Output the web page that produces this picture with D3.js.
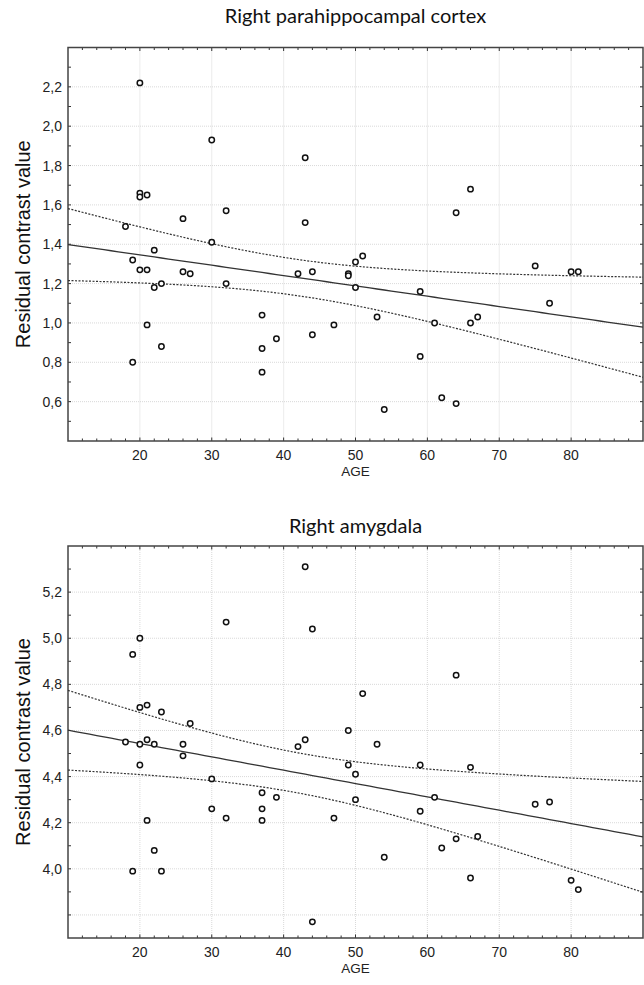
<!DOCTYPE html>
<html>
<head>
<meta charset="utf-8">
<script src="https://cdn.jsdelivr.net/npm/d3@7"></script>
<style>
  body { margin: 0; background: #fff; }
</style>
</head>
<body>
<div id="chart"></div>
<script>
// data
const parahippoAge = [20, 20, 20, 21, 30, 43, 18, 26, 32, 30, 43, 19, 22, 20, 21, 26, 27, 22, 23, 32,
  42, 44, 37, 66, 64, 51, 50, 49, 49, 50, 75, 80, 81, 59, 77, 53, 67, 19, 21, 23,
  37, 37, 39, 44, 47, 54, 59, 61, 62, 64, 66];
const parahippoValue = [2.22, 1.66, 1.64, 1.65, 1.93, 1.84, 1.49, 1.53, 1.57, 1.41, 1.51, 1.32, 1.37, 1.27, 1.27, 1.26, 1.25, 1.18, 1.20, 1.20,
  1.25, 1.26, 1.04, 1.68, 1.56, 1.34, 1.31, 1.25, 1.24, 1.18, 1.29, 1.26, 1.26, 1.16, 1.10, 1.03, 1.03, 0.80, 0.99, 0.88,
  0.87, 0.75, 0.92, 0.94, 0.99, 0.56, 0.83, 1.00, 0.62, 0.59, 1.00];

const amygdalaAge = [43, 32, 44, 20, 19, 20, 21, 23, 27, 42, 43, 18, 20, 21, 22, 26, 26, 64, 51, 49,
  53, 20, 30, 30, 32, 37, 37, 37, 39, 47, 49, 50, 50, 54, 44, 59, 59, 61, 62, 64,
  66, 66, 67, 75, 77, 80, 81, 21, 22, 19, 23];
const amygdalaValue = [5.31, 5.07, 5.04, 5.00, 4.93, 4.70, 4.71, 4.68, 4.63, 4.53, 4.56, 4.55, 4.54, 4.56, 4.54, 4.54, 4.49, 4.84, 4.76, 4.60,
  4.54, 4.45, 4.39, 4.26, 4.22, 4.33, 4.26, 4.21, 4.31, 4.22, 4.45, 4.41, 4.30, 4.05, 3.77, 4.45, 4.25, 4.31, 4.09, 4.13,
  4.44, 3.96, 4.14, 4.28, 4.29, 3.95, 3.91, 4.21, 4.08, 3.99, 3.99];

const ageTicks = [20, 30, 40, 50, 60, 70, 80];
const parahippoTicks = [0.6, 0.8, 1.0, 1.2, 1.4, 1.6, 1.8, 2.0, 2.2];
const amygdalaGrid = [3.8, 4.0, 4.2, 4.4, 4.6, 4.8, 5.0, 5.2];
const amygdalaTicks = [4.0, 4.2, 4.4, 4.6, 4.8, 5.0, 5.2];

const width = 644;
const height = 985;
const left = 68;
const right = 643;
const tValue = 2.01; // t(0.975, n-2) for n = 51

const tickFont = 'Arial, "Liberation Sans", sans-serif';
const titleFont = 'Lato, "Open Sans", sans-serif';
const comma = v => d3.format('.1f')(v).replace('.', ',');

const panels = [
  {title: 'Right parahippocampal cortex', ages: parahippoAge, values: parahippoValue,
   domain: [0.4, 2.4], top: 47.5, bottom: 441, grid: parahippoTicks, labels: parahippoTicks, titleY: 23},
  {title: 'Right amygdala', ages: amygdalaAge, values: amygdalaValue,
   domain: [3.7, 5.4], top: 546, bottom: 938, grid: amygdalaGrid, labels: amygdalaTicks, titleY: 533}
];

const svg = d3.select('#chart').append('svg')
  .attr('width', width)
  .attr('height', height)
  .style('display', 'block');

panels.forEach(p => drawPanel(p));

function drawPanel(p) {
  const xScale = d3.scaleLinear().domain([10, 90]).range([left, right]);
  const yScale = d3.scaleLinear().domain(p.domain).range([p.bottom, p.top]);
  const g = svg.append('g');

  // grid
  g.append('g').selectAll('line.vg')
    .data(ageTicks)
    .join('line')
      .attr('x1', d => xScale(d)).attr('x2', d => xScale(d))
      .attr('y1', p.top).attr('y2', p.bottom)
      .attr('stroke', '#cfcfcf').attr('stroke-width', 0.8)
      .attr('stroke-dasharray', '1,1');
  g.append('g').selectAll('line.hg')
    .data(p.grid)
    .join('line')
      .attr('x1', left).attr('x2', right)
      .attr('y1', d => yScale(d)).attr('y2', d => yScale(d))
      .attr('stroke', '#cfcfcf').attr('stroke-width', 0.8)
      .attr('stroke-dasharray', '1,1');

  // inward ticks on all four sides
  const xMinor = d3.range(12, 90, 2);
  const yMinor = d3.range(Math.round(p.domain[0] * 10) + 1, Math.round(p.domain[1] * 10)).map(v => v / 10);
  const ticksG = g.append('g').attr('stroke', '#333').attr('stroke-width', 1);
  [p.bottom, p.top].forEach((yy, i) => {
    ticksG.append('g').selectAll('line')
      .data(xMinor)
      .join('line')
        .attr('x1', d => xScale(d)).attr('x2', d => xScale(d))
        .attr('y1', yy).attr('y2', d => yy + (i === 0 ? -1 : 1) * (d % 10 === 0 ? 3.5 : 2.5));
  });
  [left, right].forEach((xx, i) => {
    ticksG.append('g').selectAll('line')
      .data(yMinor)
      .join('line')
        .attr('y1', d => yScale(d)).attr('y2', d => yScale(d))
        .attr('x1', xx).attr('x2', xx + (i === 0 ? 3 : -3));
  });

  // frame
  g.append('rect')
    .attr('x', left).attr('y', p.top)
    .attr('width', right - left).attr('height', p.bottom - p.top)
    .attr('fill', 'none').attr('stroke', '#444').attr('stroke-width', 1.5);

  // tick labels
  g.append('g').selectAll('text')
    .data(p.labels)
    .join('text')
      .attr('x', left - 6)
      .attr('y', d => yScale(d) + 5)
      .attr('text-anchor', 'end')
      .style('font', `14px ${tickFont}`)
      .attr('fill', '#222')
      .text(comma);
  g.append('g').selectAll('text')
    .data(ageTicks)
    .join('text')
      .attr('x', d => xScale(d))
      .attr('y', p.bottom + 19)
      .attr('text-anchor', 'middle')
      .style('font', `14px ${tickFont}`)
      .attr('fill', '#222')
      .text(d => d);

  g.append('text')
    .attr('x', (left + right) / 2)
    .attr('y', p.bottom + 35)
    .attr('text-anchor', 'middle')
    .style('font', `13.5px ${tickFont}`)
    .attr('fill', '#222')
    .text('AGE');

  g.append('text')
    .attr('transform', `translate(30,${(p.top + p.bottom) / 2}) rotate(-90)`)
    .attr('text-anchor', 'middle')
    .style('font', `20px ${tickFont}`)
    .attr('fill', '#111')
    .text('Residual contrast value');

  g.append('text')
    .attr('x', (left + right) / 2)
    .attr('y', p.titleY)
    .attr('text-anchor', 'middle')
    .style('font', `20px ${titleFont}`)
    .attr('fill', '#111')
    .text(p.title);

  // linear fit and 95% confidence band
  const n = p.ages.length;
  const xm = d3.mean(p.ages);
  const ym = d3.mean(p.values);
  const sxx = d3.sum(p.ages, a => (a - xm) ** 2);
  const sxy = d3.sum(p.ages, (a, i) => (a - xm) * (p.values[i] - ym));
  const slope = sxy / sxx;
  const icpt = ym - slope * xm;
  const sse = d3.sum(p.ages, (a, i) => (p.values[i] - icpt - slope * a) ** 2);
  const s = Math.sqrt(sse / (n - 2));
  const fitX = d3.range(10, 90.5, 1);
  const half = x => tValue * s * Math.sqrt(1 / n + (x - xm) ** 2 / sxx);

  const line = d3.line().x(d => xScale(d[0])).y(d => yScale(d[1]));
  g.append('path')
    .attr('d', line(fitX.map(x => [x, icpt + slope * x])))
    .attr('fill', 'none').attr('stroke', '#333').attr('stroke-width', 1.3);
  [1, -1].forEach(sign => {
    g.append('path')
      .attr('d', line(fitX.map(x => [x, icpt + slope * x + sign * half(x)])))
      .attr('fill', 'none').attr('stroke', '#333').attr('stroke-width', 1.2)
      .attr('stroke-dasharray', '2,1.5');
  });

  // points
  g.append('g').selectAll('circle')
    .data(p.ages.map((a, i) => [a, p.values[i]]))
    .join('circle')
      .attr('cx', d => xScale(d[0]))
      .attr('cy', d => yScale(d[1]))
      .attr('r', 2.7)
      .attr('fill', '#fff')
      .attr('stroke', '#111')
      .attr('stroke-width', 1.5);
}
</script>
</body>
</html>
